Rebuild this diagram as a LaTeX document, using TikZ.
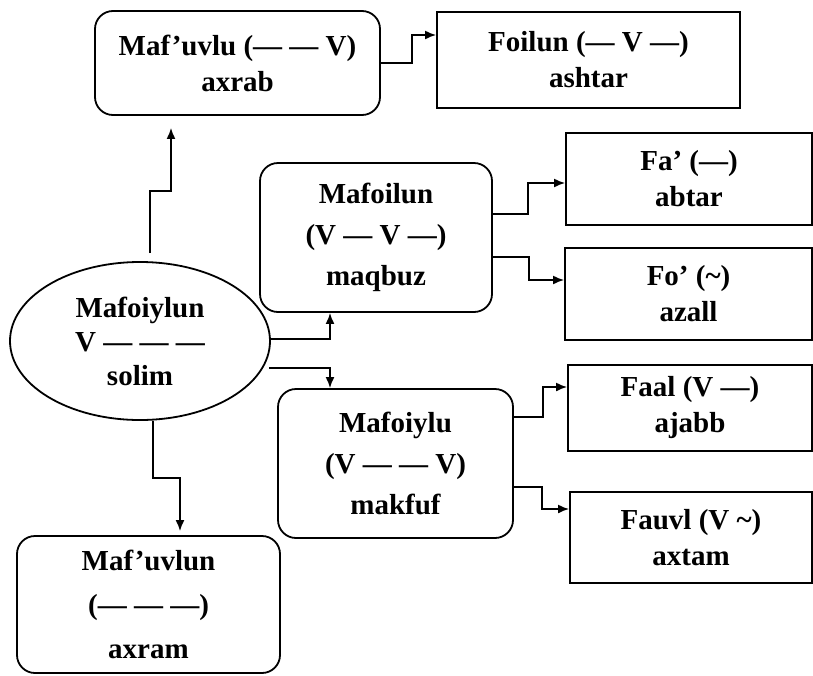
\documentclass[tikz,border=0pt]{standalone}
\usepackage{fontspec}
\setmainfont{Liberation Serif}
\usetikzlibrary{arrows.meta,shapes.geometric,calc}
\begin{document}
\begin{tikzpicture}[x=0.5pt,y=-0.5pt,
 every node/.style={align=center, inner sep=0pt},
 txtwo/.style={font=\bfseries\fontsize{14.5}{18}\selectfont},
 txthree/.style={font=\bfseries\fontsize{14.5}{20.5}\selectfont},
 rbox/.style={draw, line width=0.9pt, rounded corners=9pt},
 sbox/.style={draw, line width=0.9pt},
 conn/.style={line width=0.9pt, -{Latex[length=5.5pt,width=4.5pt]}}]
\useasboundingbox (0,0) rectangle (813,675);
\fill[white] (0,0) rectangle (813,675);
% nodes
\node[rbox, txtwo, minimum width=142.5pt, minimum height=52pt] (A) at (237.5,63) {Maf’uvlu (— — V)\\axrab};
\node[sbox, txtwo, minimum width=151.5pt, minimum height=48pt] (B) at (588.5,60) {Foilun (— V —)\\ashtar};
\node[draw, ellipse, line width=0.9pt, minimum width=130pt, minimum height=79pt, font=\bfseries\fontsize{14.5}{17}\selectfont] (ell) at (140,341) {Mafoiylun\\V — — —\\solim};
\node[rbox, txthree, minimum width=116pt, minimum height=74.5pt] (C) at (376,237.5) {Mafoilun\\(V — V —)\\maqbuz};
\node[rbox, txthree, minimum width=117.5pt, minimum height=74.5pt] (D) at (395.5,463.5) {Mafoiylu\\(V — — V)\\makfuf};
\node[sbox, txtwo, minimum width=123pt, minimum height=46pt] (E) at (689,179) {Fa’ (—)\\abtar};
\node[sbox, txtwo, minimum width=123.5pt, minimum height=46pt] (F) at (688.5,294) {Fo’ (\textasciitilde)\\azall};
\node[sbox, txtwo, minimum width=122pt, minimum height=43pt] (G) at (690,408) {Faal (V —)\\ajabb};
\node[sbox, txtwo, minimum width=121pt, minimum height=45.5pt] (H) at (691,537.5) {Fauvl (V \textasciitilde)\\axtam};
\node[rbox, font=\bfseries\fontsize{14.5}{22}\selectfont, minimum width=131.5pt, minimum height=68.5pt] (I) at (148.5,604.5) {Maf’uvlun\\(— — —)\\axram};
% connectors
\draw[conn] (A.east) -- ++(31,0) |- ([yshift=12.5pt]B.west);
\draw[conn, shorten >=6pt] ([xshift=5pt,yshift=4pt]ell.north) -- ++(0,-62) -- ++(21,0) -- ([xshift=-33.25pt]A.south);
\draw[conn] ([yshift=1pt]ell.east) -| ([xshift=-23pt]C.south);
\draw[conn] ([xshift=-1pt,yshift=-13.5pt]ell.east) -| ([xshift=-32.75pt]D.north);
\draw[conn] ([yshift=11.75pt]C.east) -- ++(35,0) |- ([yshift=-2pt]E.west);
\draw[conn] ([yshift=-9.75pt]C.east) -- ++(36,0) |- ([yshift=7pt]F.west);
\draw[conn] ([yshift=23.25pt]D.east) -- ++(29,0) |- ([yshift=10.5pt]G.west);
\draw[conn] ([yshift=-11.75pt]D.east) -- ++(28,0) |- ([yshift=14.25pt]H.west);
\draw[conn] ([xshift=6.5pt]ell.south) -- ++(0,57) -- ++(27,0) -- ([xshift=15.75pt,yshift=2pt]I.north);
\end{tikzpicture}
\end{document}
